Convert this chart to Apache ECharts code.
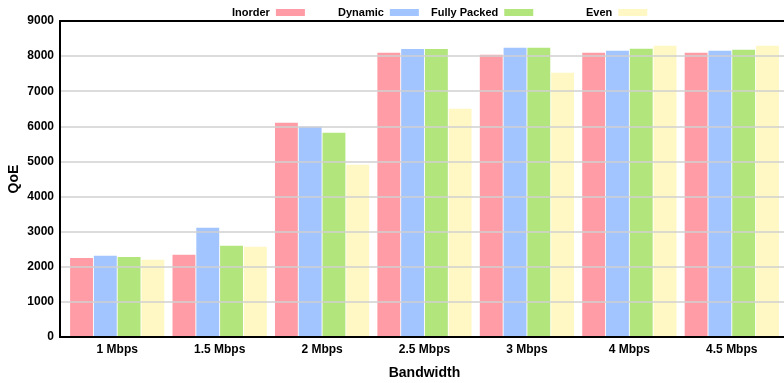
<!DOCTYPE html>
<html>
<head>
<meta charset="utf-8">
<script src="https://cdn.jsdelivr.net/npm/echarts@6/dist/echarts.min.js"></script>
<style>
html,body{margin:0;padding:0;background:#fff;}
#c{width:784px;height:383px;}
</style>
</head>
<body>
<div id="c"></div>
<script>
const categories = ['1 Mbps', '1.5 Mbps', '2 Mbps', '2.5 Mbps', '3 Mbps', '4 Mbps', '4.5 Mbps'];
const seriesNames = ['Inorder', 'Dynamic', 'Fully Packed', 'Even'];
const inorder     = [2250, 2345, 6104, 8097, 8040, 8097, 8097];
const dynamic     = [2316, 3114, 5990, 8203, 8240, 8154, 8154];
const fullyPacked = [2278, 2600, 5819, 8203, 8240, 8211, 8183];
const even        = [2202, 2572, 4908, 6502, 7528, 8297, 8297];
const yTicks = [0, 1000, 2000, 3000, 4000, 5000, 6000, 7000, 8000, 9000];

const colors = ['#FF9CA5', '#A2C4FF', '#B3E57D', '#FFF8C4'];
const values = [inorder, dynamic, fullyPacked, even];
const FONT = '"Liberation Sans", Arial, sans-serif';
const legendLefts = [232, 338, 431, 586];

const chart = echarts.init(document.getElementById('c'), null, {renderer: 'canvas'});

const option = {
  animation: false,
  backgroundColor: '#fff',
  color: colors,
  textStyle: {fontFamily: FONT},
  legend: seriesNames.map((n, i) => ({
    data: [n],
    left: legendLefts[i],
    top: 7,
    padding: 0,
    align: 'right',
    itemWidth: 29,
    itemHeight: 7,
    itemGap: 0,
    icon: 'rect',
    selectedMode: false,
    textStyle: {fontFamily: FONT, fontWeight: 'bold', fontSize: 11, color: '#000', padding: [0, 1, 0, 0]}
  })),
  grid: [
    {left: 66, right: 1, top: 21, bottom: 46, containLabel: false, outerBoundsMode: 'none'},
    {left: 60, right: -6, top: 21, bottom: 46, containLabel: false, outerBoundsMode: 'none'}
  ],
  xAxis: [
    {
      type: 'category', gridIndex: 0, data: categories,
      axisLine: {show: false}, axisTick: {show: false},
      axisLabel: {fontFamily: FONT, fontWeight: 'bold', fontSize: 12, color: '#000', margin: 7},
      name: 'Bandwidth', nameLocation: 'middle', nameGap: 29, nameMoveOverlap: false,
      nameTextStyle: {fontFamily: FONT, fontWeight: 'bold', fontSize: 14, color: '#000'}
    },
    {
      type: 'category', gridIndex: 1, data: categories, position: 'bottom', z: 10,
      axisLine: {show: true, lineStyle: {color: '#000', width: 2}},
      axisTick: {show: false}, axisLabel: {show: false}
    },
    {
      type: 'category', gridIndex: 1, data: categories, position: 'top', z: 10,
      axisLine: {show: true, lineStyle: {color: '#000', width: 2}},
      axisTick: {show: false}, axisLabel: {show: false}
    }
  ],
  yAxis: [
    {
      type: 'value', gridIndex: 0, min: 0, max: 9000, interval: 1000,
      axisLine: {show: false}, axisTick: {show: false}, axisLabel: {show: false}, splitLine: {show: false}
    },
    {
      type: 'value', gridIndex: 1, min: yTicks[0], max: yTicks[yTicks.length - 1], interval: 1000, z: 10,
      axisLine: {show: true, lineStyle: {color: '#000', width: 2}},
      axisTick: {show: false},
      axisLabel: {fontFamily: FONT, fontWeight: 'bold', fontSize: 12, color: '#000', margin: 6,
                  formatter: v => String(v)},
      splitLine: {show: true, lineStyle: {color: '#d0d0d0', width: 1.5}},
      name: 'QoE', nameLocation: 'middle', nameGap: 39, nameMoveOverlap: false,
      nameTextStyle: {fontFamily: FONT, fontWeight: 'bold', fontSize: 14, color: '#000'}
    }
  ],
  series: seriesNames.map((n, i) => ({
    name: n,
    type: 'bar',
    xAxisIndex: 0,
    yAxisIndex: 0,
    data: values[i],
    barCategoryGap: '8%',
    barGap: '4%',
    itemStyle: {color: colors[i]}
  }))
};
chart.setOption(option);
</script>
</body>
</html>
